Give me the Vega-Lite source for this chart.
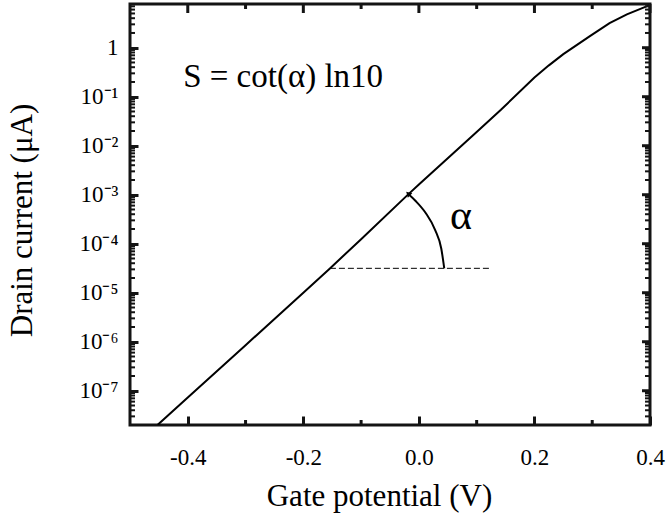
{
  "$schema": "https://vega.github.io/schema/vega-lite/v6.json",
  "width": 520,
  "height": 421,
  "autosize": "none",
  "padding": {"left": 130, "top": 4, "right": 17, "bottom": 92},
  "background": "white",
  "config": {
    "view": {"stroke": "#141414", "strokeWidth": 3}
  },
  "datasets": {
    "curve": [
      {"v": -0.452, "i": 2.02e-8},
      {"v": -0.4, "i": 7.3e-8},
      {"v": -0.3, "i": 8.5e-7},
      {"v": -0.2, "i": 1.0e-5},
      {"v": -0.154, "i": 3.13e-5},
      {"v": -0.1, "i": 1.24e-4},
      {"v": -0.018, "i": 1.03e-3},
      {"v": 0.0, "i": 1.62e-3},
      {"v": 0.1, "i": 0.0191},
      {"v": 0.142, "i": 0.0543},
      {"v": 0.2, "i": 0.2455},
      {"v": 0.225, "i": 0.4365},
      {"v": 0.25, "i": 0.741},
      {"v": 0.296, "i": 1.718},
      {"v": 0.33, "i": 3.162},
      {"v": 0.36, "i": 4.786},
      {"v": 0.394, "i": 6.998},
      {"v": 0.4, "i": 7.447}
    ],
    "dash": [
      {"v": -0.154, "i": 3.15e-5},
      {"v": 0.124, "i": 3.15e-5}
    ],
    "arc": [
      {"v": 0.0439, "i": 3.148e-5},
      {"v": 0.0388, "i": 7.91e-5},
      {"v": 0.0282, "i": 1.905e-4},
      {"v": 0.0118, "i": 4.236e-4},
      {"v": -0.0052, "i": 7.36e-4},
      {"v": -0.0183, "i": 1.033e-3}
    ],
    "tip": [{"v": -0.0175, "i": 1.02e-3}],
    "notes": [
      {"v": -0.408, "i": 0.16, "t": "S = cot(α) ln10"}
    ],
    "alpha": [
      {"v": 0.0728, "i": 3.67e-4, "t": "α"}
    ],
    "ymajor": [
      {"i": 1e-7}, {"i": 1e-6}, {"i": 1e-5}, {"i": 1e-4}, {"i": 0.001}, {"i": 0.01}, {"i": 0.1}, {"i": 1}
    ],
    "yminor": [
      {"i": 3e-8}, {"i": 4e-8}, {"i": 5e-8}, {"i": 6e-8}, {"i": 7e-8}, {"i": 8e-8}, {"i": 9e-8},
      {"i": 2e-7}, {"i": 3e-7}, {"i": 4e-7}, {"i": 5e-7}, {"i": 6e-7}, {"i": 7e-7}, {"i": 8e-7}, {"i": 9e-7},
      {"i": 2e-6}, {"i": 3e-6}, {"i": 4e-6}, {"i": 5e-6}, {"i": 6e-6}, {"i": 7e-6}, {"i": 8e-6}, {"i": 9e-6},
      {"i": 2e-5}, {"i": 3e-5}, {"i": 4e-5}, {"i": 5e-5}, {"i": 6e-5}, {"i": 7e-5}, {"i": 8e-5}, {"i": 9e-5},
      {"i": 2e-4}, {"i": 3e-4}, {"i": 4e-4}, {"i": 5e-4}, {"i": 6e-4}, {"i": 7e-4}, {"i": 8e-4}, {"i": 9e-4},
      {"i": 0.002}, {"i": 0.003}, {"i": 0.004}, {"i": 0.005}, {"i": 0.006}, {"i": 0.007}, {"i": 0.008}, {"i": 0.009},
      {"i": 0.02}, {"i": 0.03}, {"i": 0.04}, {"i": 0.05}, {"i": 0.06}, {"i": 0.07}, {"i": 0.08}, {"i": 0.09},
      {"i": 0.2}, {"i": 0.3}, {"i": 0.4}, {"i": 0.5}, {"i": 0.6}, {"i": 0.7}, {"i": 0.8}, {"i": 0.9},
      {"i": 2}, {"i": 3}, {"i": 4}, {"i": 5}, {"i": 6}, {"i": 7}
    ],
    "xmajor": [{"v": -0.4}, {"v": -0.2}, {"v": 0}, {"v": 0.2}, {"v": 0.4}],
    "xminor": [{"v": -0.3}, {"v": -0.1}, {"v": 0.1}, {"v": 0.3}]
  },
  "layer": [
    {
      "data": {"name": "curve"},
      "mark": {"type": "line", "color": "#000000", "strokeWidth": 2, "clip": true},
      "encoding": {
        "x": {
          "field": "v", "type": "quantitative",
          "scale": {"domain": [-0.5, 0.4], "nice": false, "zero": false},
          "axis": {
            "orient": "bottom",
            "title": "Gate potential (V)",
            "grid": false,
            "domain": false,
            "tickColor": "#141414", "tickWidth": 3, "tickSize": -9,
            "values": [-0.4, -0.2, 0, 0.2, 0.4],
            "labelExpr": "(datum.value < -0.001 ? '-' : '') + format(abs(datum.value), '.1f')",
            "labelFont": "Liberation Serif", "labelFontSize": 23, "labelColor": "#000000",
            "labelPadding": 30, "labelOverlap": false, "labelFlush": false,
            "titleFont": "Liberation Serif", "titleFontSize": 31, "titleFontWeight": "normal", "titleColor": "#000000",
            "titlePadding": 12, "titleX": 249
          }
        },
        "y": {
          "field": "i", "type": "quantitative",
          "scale": {"type": "log", "domain": [2e-8, 7.8], "nice": false},
          "axis": {
            "orient": "left",
            "title": "Drain current (μA)",
            "grid": false,
            "domain": false,
            "tickColor": "#141414", "tickWidth": 3, "tickSize": -8,
            "values": [1e-7, 1e-6, 1e-5, 1e-4, 0.001, 0.01, 0.1, 1],
            "labelExpr": "['10⁻⁸','10⁻⁷','10⁻⁶','10⁻⁵','10⁻⁴','10⁻³','10⁻²','10⁻¹','1'][round(log(datum.value)/LN10)+8]",
            "labelFont": "Liberation Serif", "labelFontSize": 23, "labelColor": "#000000",
            "labelPadding": 20, "labelOverlap": false, "labelFlush": false,
            "titleFont": "Liberation Serif", "titleFontSize": 31, "titleFontWeight": "normal", "titleColor": "#000000",
            "titlePadding": 40, "titleY": 216
          }
        }
      }
    },
    {
      "data": {"name": "dash"},
      "mark": {"type": "line", "color": "#000000", "strokeWidth": 1, "strokeDash": [6, 3]},
      "encoding": {
        "x": {"field": "v", "type": "quantitative"},
        "y": {"field": "i", "type": "quantitative"}
      }
    },
    {
      "data": {"name": "arc"},
      "mark": {"type": "line", "color": "#000000", "strokeWidth": 2, "interpolate": "monotone"},
      "encoding": {
        "x": {"field": "v", "type": "quantitative"},
        "y": {"field": "i", "type": "quantitative"},
        "order": {"field": "i", "type": "quantitative"}
      }
    },
    {
      "data": {"name": "tip"},
      "mark": {"type": "point", "shape": "triangle", "filled": true, "color": "#000000", "size": 40, "angle": 315, "opacity": 1},
      "encoding": {
        "x": {"field": "v", "type": "quantitative"},
        "y": {"field": "i", "type": "quantitative"}
      }
    },
    {
      "data": {"name": "ymajor"},
      "mark": {"type": "tick", "orient": "horizontal", "color": "#141414", "size": 8, "thickness": 3, "xOffset": -4, "opacity": 1},
      "encoding": {
        "x": {"datum": 0.4, "type": "quantitative"},
        "y": {"field": "i", "type": "quantitative"}
      }
    },
    {
      "data": {"name": "yminor"},
      "mark": {"type": "tick", "orient": "horizontal", "color": "#141414", "size": 5, "thickness": 2, "xOffset": 2.5, "opacity": 1},
      "encoding": {
        "x": {"datum": -0.5, "type": "quantitative"},
        "y": {"field": "i", "type": "quantitative"}
      }
    },
    {
      "data": {"name": "yminor"},
      "mark": {"type": "tick", "orient": "horizontal", "color": "#141414", "size": 5, "thickness": 2, "xOffset": -2.5, "opacity": 1},
      "encoding": {
        "x": {"datum": 0.4, "type": "quantitative"},
        "y": {"field": "i", "type": "quantitative"}
      }
    },
    {
      "data": {"name": "xmajor"},
      "mark": {"type": "tick", "orient": "vertical", "color": "#141414", "size": 9, "thickness": 3, "yOffset": 4.5, "opacity": 1},
      "encoding": {
        "x": {"field": "v", "type": "quantitative"},
        "y": {"datum": 7.8, "type": "quantitative"}
      }
    },
    {
      "data": {"name": "xminor"},
      "mark": {"type": "tick", "orient": "vertical", "color": "#141414", "size": 5, "thickness": 3, "yOffset": 2.5, "opacity": 1},
      "encoding": {
        "x": {"field": "v", "type": "quantitative"},
        "y": {"datum": 7.8, "type": "quantitative"}
      }
    },
    {
      "data": {"name": "xminor"},
      "mark": {"type": "tick", "orient": "vertical", "color": "#141414", "size": 5, "thickness": 3, "yOffset": -2.5, "opacity": 1},
      "encoding": {
        "x": {"field": "v", "type": "quantitative"},
        "y": {"datum": 2e-8, "type": "quantitative"}
      }
    },
    {
      "data": {"name": "notes"},
      "mark": {"type": "text", "align": "left", "baseline": "alphabetic", "font": "Liberation Serif", "fontSize": 33, "color": "#000000"},
      "encoding": {
        "x": {"field": "v", "type": "quantitative"},
        "y": {"field": "i", "type": "quantitative"},
        "text": {"field": "t"}
      }
    },
    {
      "data": {"name": "alpha"},
      "mark": {"type": "text", "align": "center", "baseline": "middle", "font": "Liberation Serif", "fontSize": 42, "color": "#000000"},
      "encoding": {
        "x": {"field": "v", "type": "quantitative"},
        "y": {"field": "i", "type": "quantitative"},
        "text": {"field": "t"}
      }
    }
  ]
}
